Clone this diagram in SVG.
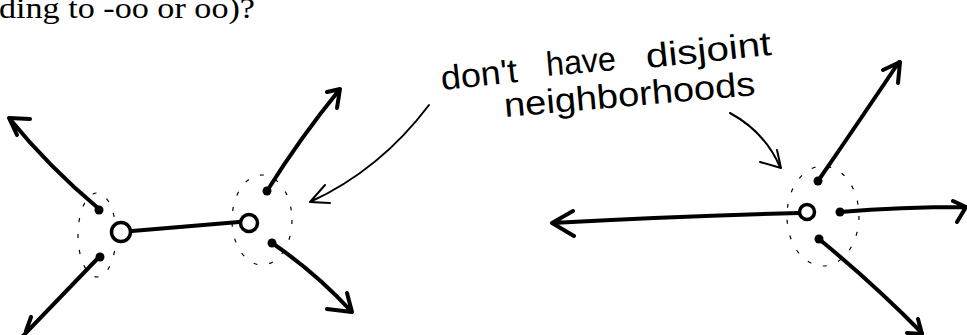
<svg xmlns="http://www.w3.org/2000/svg" width="967" height="335" viewBox="0 0 967 335">
<style>
.bg{fill:#fff}
.title{font-family:"Liberation Serif","Times New Roman",serif;font-size:30px;fill:#000}
.hand{font-family:"Liberation Sans",Arial,sans-serif;font-size:34px;fill:#000}
.edge{fill:none;stroke:#000;stroke-width:4;stroke-linecap:round;stroke-linejoin:round}
.thin{fill:none;stroke:#000;stroke-width:2;stroke-linecap:round;stroke-linejoin:round}
.hole{fill:#fff;stroke:#000;stroke-width:3.5}
.dot{fill:#000}
.nbhd{fill:none;stroke:#000;stroke-width:1.2;stroke-dasharray:4 12}
</style>
<rect class="bg" x="0" y="0" width="967" height="335"/>
<g id="title">
<text class="title" x="-1" y="18" textLength="256" lengthAdjust="spacingAndGlyphs">ding to -oo or oo)?</text>
</g>
<g id="annotation">
<text class="hand" x="442" y="90" textLength="77" lengthAdjust="spacingAndGlyphs" transform="rotate(-6 442 90)">don't</text>
<text class="hand" x="547" y="76" textLength="70" lengthAdjust="spacingAndGlyphs" transform="rotate(-5 547 76)">have</text>
<text class="hand" x="647" y="68" textLength="126" lengthAdjust="spacingAndGlyphs" transform="rotate(-6 647 68)">disjoint</text>
<text class="hand" x="505" y="117" textLength="252" lengthAdjust="spacingAndGlyphs" transform="rotate(-5 505 117)">neighborhoods</text>
</g>
<g id="neighborhoods">
<ellipse class="nbhd" cx="97" cy="235" rx="19" ry="42"/>
<ellipse class="nbhd" cx="262" cy="220" rx="30" ry="45"/>
<ellipse class="nbhd" cx="823" cy="216" rx="36" ry="50"/>
</g>
<g id="connectors">
<path class="edge" d="M132,231 L239,222"/>
<path class="edge" d="M98,208 Q50,168 9,118 M30,119 L9,118 L17,135"/>
<path class="edge" d="M100,256 L21,338 M31,317 L26,331"/>
<path class="edge" d="M267,191 Q300,138 340,89 M327,92 L340,89 L337,108"/>
<path class="edge" d="M272,243 Q315,272 352,312 M327,309 L352,312 L347,293"/>
<path class="thin" d="M429,105 Q380,170 310,202 M325,185 L310,202 L330,203"/>
<path class="thin" d="M730,113 Q765,132 780,167 M760,162 L781,168 L777,150"/>
<path class="edge" d="M799,213 Q680,216 552,223 M573,211 L552,223 L574,236"/>
<path class="edge" d="M818,181 Q860,120 899,62 M883,70 L900,62 L898,83"/>
<path class="edge" d="M840,212 Q900,207 966,207 M953,201 L966,207 L957,222"/>
<path class="edge" d="M819,239 Q875,285 922,333 M907,333 L922,334 L918,319"/>
</g>
<g id="node-left-a">
<circle class="hole" cx="121" cy="232" r="9.5"/>
<circle class="dot" cx="99" cy="210" r="4.5"/>
<circle class="dot" cx="100" cy="257" r="4.5"/>
</g>
<g id="node-left-b">
<circle class="hole" cx="249" cy="223" r="8.5"/>
<circle class="dot" cx="267" cy="191" r="4.5"/>
<circle class="dot" cx="272" cy="243" r="4.5"/>
</g>
<g id="node-right">
<circle class="hole" cx="807" cy="212" r="7.5"/>
<circle class="dot" cx="818" cy="181" r="4.5"/>
<circle class="dot" cx="840" cy="212" r="4.5"/>
<circle class="dot" cx="819" cy="239" r="4.5"/>
</g>
</svg>
